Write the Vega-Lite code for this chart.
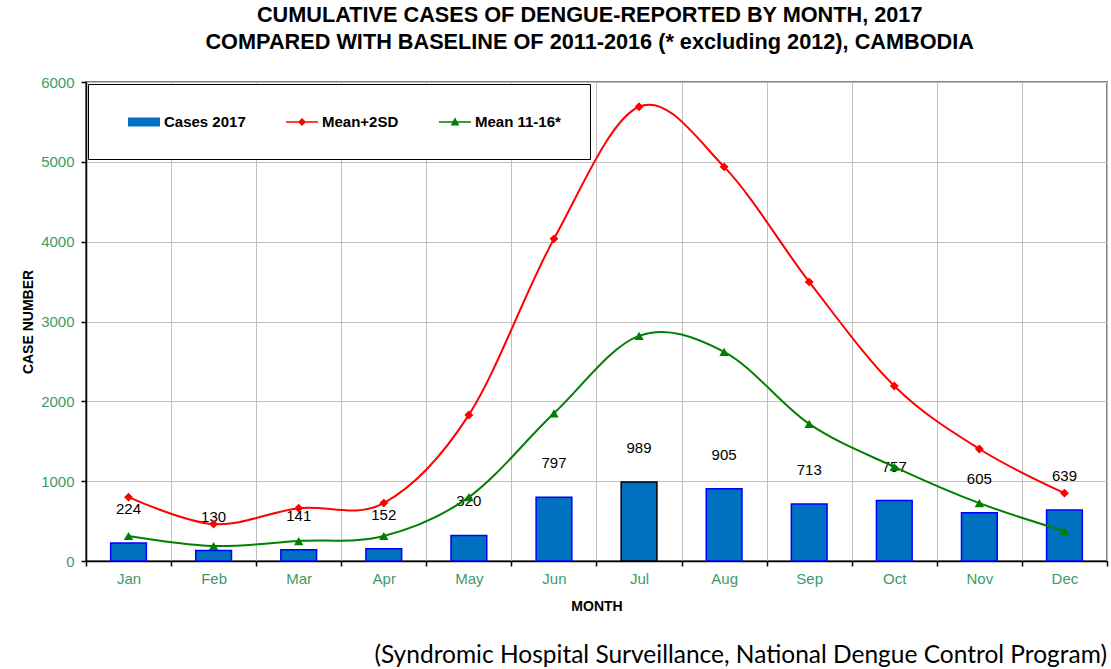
{
  "$schema": "https://vega.github.io/schema/vega-lite/v6.json",
  "padding": {"left": 20, "top": 5, "right": 5, "bottom": 5},
  "background": "white",
  "spacing": 18,
  "title": {
    "text": ["CUMULATIVE CASES OF DENGUE-REPORTED BY MONTH, 2017", "COMPARED WITH BASELINE OF 2011-2016 (* excluding 2012), CAMBODIA"],
    "font": "Liberation Sans",
    "fontSize": 21.7,
    "fontWeight": "bold",
    "lineHeight": 27,
    "color": "#000000",
    "anchor": "middle",
    "dx": 25,
    "offset": 20
  },
  "config": {
    "view": {"stroke": "#808080", "strokeWidth": 2},
    "axis": {
      "domainColor": "#000000",
      "domainWidth": 1.5,
      "tickColor": "#000000",
      "tickWidth": 1.5,
      "tickSize": 5,
      "gridColor": "#C0C0C0",
      "gridWidth": 1,
      "labelFont": "Liberation Sans",
      "labelFontSize": 15,
      "labelColor": "#3C9A6A",
      "titleFont": "Liberation Sans",
      "titleFontSize": 14,
      "titleFontWeight": "bold",
      "titleColor": "#000000"
    },
    "legend": {
      "orient": "top-left",
      "offset": 2,
      "direction": "horizontal",
      "padding": 29,
      "fillColor": "white",
      "strokeColor": "#000000",
      "symbolSize": 256,
      "symbolOpacity": 1,
      "labelOffset": 29,
      "columnPadding": 29,
      "labelFont": "Liberation Sans",
      "labelFontSize": 15,
      "labelFontWeight": "bold",
      "labelColor": "#000000"
    }
  },
  "vconcat": [
    {
      "width": 1021,
      "height": 479,
      "data": {
        "values": [
          {"month": "Jan", "cases": 224, "mean2sd": 800, "mean": 313},
          {"month": "Feb", "cases": 130, "mean2sd": 462, "mean": 188},
          {"month": "Mar", "cases": 141, "mean2sd": 662, "mean": 250},
          {"month": "Apr", "cases": 152, "mean2sd": 725, "mean": 313},
          {"month": "May", "cases": 320, "mean2sd": 1830, "mean": 800},
          {"month": "Jun", "cases": 797, "mean2sd": 4035, "mean": 1850},
          {"month": "Jul", "cases": 989, "mean2sd": 5690, "mean": 2820},
          {"month": "Aug", "cases": 905, "mean2sd": 4937, "mean": 2620},
          {"month": "Sep", "cases": 713, "mean2sd": 3496, "mean": 1717},
          {"month": "Oct", "cases": 757, "mean2sd": 2193, "mean": 1180},
          {"month": "Nov", "cases": 605, "mean2sd": 1403, "mean": 725},
          {"month": "Dec", "cases": 639, "mean2sd": 850, "mean": 375}
        ]
      },
      "encoding": {
        "x": {
          "field": "month",
          "type": "ordinal",
          "sort": ["Jan", "Feb", "Mar", "Apr", "May", "Jun", "Jul", "Aug", "Sep", "Oct", "Nov", "Dec"],
          "scale": {"paddingInner": 0, "paddingOuter": 0},
          "axis": {
            "title": "MONTH",
            "tickBand": "extent",
            "grid": true,
            "labelAngle": 0,
            "labelPadding": 5,
            "titlePadding": 13
          }
        }
      },
      "layer": [
        {
          "mark": {"type": "bar", "width": {"band": 0.42}, "strokeWidth": 1.5, "color": "#0070C0"},
          "encoding": {
            "y": {
              "field": "cases",
              "type": "quantitative",
              "scale": {"domain": [0, 6000], "nice": false},
              "axis": {
                "title": "CASE NUMBER",
                "values": [0, 1000, 2000, 3000, 4000, 5000, 6000],
                "format": "d",
                "labelPadding": 7,
                "titlePadding": 5,
                "grid": true
              }
            },
            "stroke": {
              "condition": {"test": "datum.month === 'Jul'", "value": "#000000"},
              "value": "#0000FF"
            }
          }
        },
        {
          "mark": {"type": "text", "baseline": "bottom", "dy": -26, "font": "Liberation Sans", "fontSize": 15, "color": "#000000"},
          "encoding": {
            "y": {"field": "cases", "type": "quantitative"},
            "text": {"field": "cases", "type": "quantitative"}
          }
        },
        {
          "mark": {
            "type": "line",
            "interpolate": "cardinal",
            "tension": 0,
            "strokeWidth": 2,
            "color": "#008000",
            "point": {"shape": "triangle-up", "size": 90, "filled": true, "color": "#008000"}
          },
          "encoding": {
            "y": {"field": "mean", "type": "quantitative"}
          }
        },
        {
          "mark": {
            "type": "line",
            "interpolate": "cardinal",
            "tension": 0,
            "strokeWidth": 2,
            "color": "#FF0000",
            "point": {"shape": "diamond", "size": 80, "filled": true, "color": "#FF0000"}
          },
          "encoding": {
            "y": {"field": "mean2sd", "type": "quantitative"}
          }
        },
        {
          "transform": [{"fold": ["cases", "mean2sd", "mean"], "as": ["series", "val"]}],
          "mark": {"type": "point", "filled": true, "size": 0, "opacity": 1, "strokeWidth": 0},
          "encoding": {
            "y": {"field": "val", "type": "quantitative"},
            "color": {
              "field": "series",
              "type": "nominal",
              "scale": {"domain": ["cases", "mean2sd", "mean"], "range": ["#0070C0", "#FF0000", "#008000"]},
              "legend": {"title": null, "labelExpr": "datum.value === 'cases' ? 'Cases 2017' : datum.value === 'mean2sd' ? 'Mean+2SD' : 'Mean 11-16*'"}
            },
            "shape": {
              "field": "series",
              "type": "nominal",
              "scale": {
                "domain": ["cases", "mean2sd", "mean"],
                "range": [
                  "M0.25,-0.56H4.25V0.56H0.25Z",
                  "M0.25,-0.1H4.25V0.1H0.25Z M1.75,0L2.25,-0.5L2.75,0L2.25,0.5Z",
                  "M0.25,-0.1H4.25V0.1H0.25Z M1.7,0.45L2.25,-0.6L2.8,0.45Z"
                ]
              },
              "legend": {"title": null, "labelExpr": "datum.value === 'cases' ? 'Cases 2017' : datum.value === 'mean2sd' ? 'Mean+2SD' : 'Mean 11-16*'"}
            }
          }
        }
      ]
    },
    {
      "width": 1021,
      "height": 1,
      "view": {"stroke": null},
      "data": {"values": [{"a": 1}]},
      "mark": {"type": "text"},
      "encoding": {"text": {"value": ""}},
      "title": {
        "text": "(Syndromic Hospital Surveillance, National Dengue Control Program)",
        "orient": "bottom",
        "anchor": "end",
        "font": "Lato",
        "fontSize": 24.5,
        "fontWeight": "normal",
        "color": "#000000",
        "offset": 0
      }
    }
  ]
}
